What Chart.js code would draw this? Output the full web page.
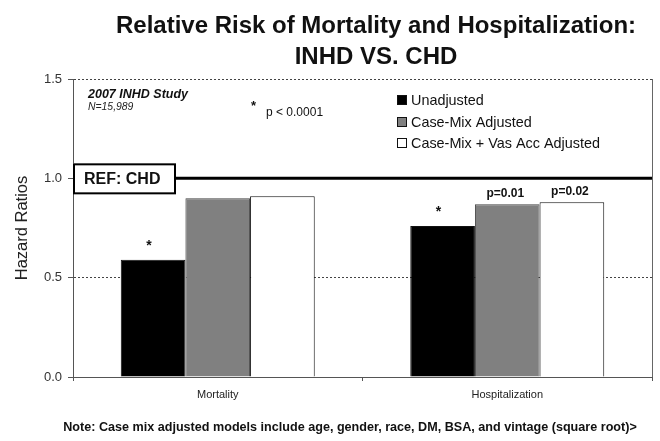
<!DOCTYPE html>
<html>
<head>
<meta charset="utf-8">
<script src="https://cdn.jsdelivr.net/npm/chart.js@4"></script>
<style>
html,body{margin:0;padding:0;background:#fff;}
#wrap{width:660px;height:441px;position:relative;}
</style>
</head>
<body>
<div id="wrap"><canvas id="c" width="660" height="441"></canvas></div>
<script>
const categories = ['Mortality', 'Hospitalization'];
const seriesNames = ['Unadjusted', 'Case-Mix Adjusted', 'Case-Mix + Vas Acc Adjusted'];
const unadjusted = [0.59, 0.76];
const caseMixAdjusted = [0.90, 0.87];
const caseMixVasAcc = [0.91, 0.88];
const barLabels = [['*', '*'], ['', 'p=0.01'], ['', 'p=0.02']];
const yTicks = [0, 0.5, 1.0, 1.5];
const refValue = 1.0;

const FONT = '"Liberation Sans", Arial, sans-serif';

const overlay = {
  id: 'overlay',
  afterDraw(chart) {
    const ctx = chart.ctx;
    const a = chart.chartArea;
    const y = chart.scales.y;
    ctx.save();
    // right border
    ctx.strokeStyle = '#666';
    ctx.lineWidth = 1;
    ctx.beginPath();
    ctx.moveTo(a.right + 0.5, a.top);
    ctx.lineTo(a.right + 0.5, a.bottom);
    ctx.stroke();
    // reference line
    const ry = y.getPixelForValue(refValue);
    ctx.strokeStyle = '#000';
    ctx.lineWidth = 3;
    ctx.beginPath();
    ctx.moveTo(a.left, ry);
    ctx.lineTo(a.right, ry);
    ctx.stroke();
    // REF box
    ctx.fillStyle = '#fff';
    ctx.fillRect(a.left, ry - 15, 102, 30);
    ctx.lineWidth = 2;
    ctx.strokeRect(a.left + 1, ry - 14, 101, 29);
    ctx.fillStyle = '#111';
    ctx.font = 'bold 16px ' + FONT;
    ctx.textAlign = 'left';
    ctx.textBaseline = 'middle';
    ctx.fillText('REF: CHD', a.left + 11, ry + 1);

    // Titles
    ctx.fillStyle = '#111';
    ctx.textAlign = 'center';
    ctx.font = 'bold 24px ' + FONT;
    ctx.fillText('Relative Risk of Mortality and Hospitalization:', 376, 26);
    ctx.fillText('INHD VS. CHD', 376, 57);

    // study notes
    ctx.textAlign = 'left';
    ctx.font = 'italic bold 12.5px ' + FONT;
    ctx.fillText('2007 INHD Study', 88, 95);
    ctx.font = 'italic 10.4px ' + FONT;
    ctx.fillStyle = '#222';
    ctx.fillText('N=15,989', 88, 107);
    ctx.fillStyle = '#111';
    ctx.font = 'bold 13px ' + FONT;
    ctx.fillText('*', 251, 106);
    ctx.font = '12px ' + FONT;
    ctx.fillText('p < 0.0001', 266, 113);

    // legend
    const colors = chart.data.datasets.map(d => d.backgroundColor);
    const legendY = [100, 122, 143];
    ctx.font = '14.4px ' + FONT;
    chart.data.datasets.forEach((d, i) => {
      ctx.fillStyle = colors[i];
      ctx.fillRect(397, legendY[i] - 5, 10, 10);
      ctx.strokeStyle = '#111';
      ctx.lineWidth = 1;
      ctx.strokeRect(397.5, legendY[i] - 4.5, 9, 9);
      ctx.fillStyle = '#111';
      ctx.fillText(d.label, 411, legendY[i] + 1);
    });

    // bar labels
    chart.data.datasets.forEach((d, i) => {
      const meta = chart.getDatasetMeta(i);
      meta.data.forEach((bar, j) => {
        const t = barLabels[i][j];
        if (!t) return;
        ctx.fillStyle = '#111';
        ctx.textAlign = 'center';
        ctx.textBaseline = 'middle';
        if (t === '*') {
          ctx.font = 'bold 14px ' + FONT;
          ctx.fillText(t, bar.x - 4, bar.y - 14);
        } else {
          ctx.font = 'bold 12px ' + FONT;
          ctx.fillText(t, bar.x - 2, bar.y - 10);
        }
      });
    });

    // note
    ctx.textAlign = 'center';
    ctx.textBaseline = 'middle';
    ctx.font = 'bold 12.6px ' + FONT;
    ctx.fillStyle = '#111';
    ctx.fillText('Note: Case mix adjusted models include age, gender, race, DM, BSA, and vintage (square root)>', 350, 428);
    ctx.restore();
  }
};

new Chart(document.getElementById('c'), {
  type: 'bar',
  data: {
    labels: categories,
    datasets: [
      { label: seriesNames[0], data: unadjusted, backgroundColor: '#000000', borderColor: '#111', borderWidth: 1 },
      { label: seriesNames[1], data: caseMixAdjusted, backgroundColor: '#808080', borderColor: '#444', borderWidth: 1 },
      { label: seriesNames[2], data: caseMixVasAcc, backgroundColor: '#ffffff', borderColor: '#111', borderWidth: 1 }
    ]
  },
  options: {
    responsive: false,
    animation: false,
    devicePixelRatio: 1,
    layout: { padding: { left: 0, right: 8, top: 79, bottom: 0 } },
    plugins: { legend: { display: false }, tooltip: { enabled: false }, title: { display: false } },
    datasets: { bar: { categoryPercentage: 0.67, barPercentage: 1.0 } },
    scales: {
      x: {
        grid: { drawOnChartArea: false, tickLength: 4, color: '#555' },
        border: { color: '#555', width: 1 },
        ticks: { font: { family: FONT, size: 11 }, color: '#222', padding: 7 },
        afterFit(s) { s.height = 64; }
      },
      y: {
        min: 0, max: 1.5,
        afterBuildTicks(s) { s.ticks = yTicks.map(v => ({ value: v })); },
        grid: {
          color: c => (c.tick && c.tick.value === 0) ? 'rgba(0,0,0,0)' : '#444',
          tickColor: '#555',
          tickLength: 5,
          tickBorderDash: []
        },
        border: { color: '#555', width: 1, dash: [2, 2] },
        ticks: {
          font: { family: FONT, size: 13 }, color: '#333', padding: 6,
          callback: v => Number(v).toFixed(1)
        },
        title: { display: true, text: 'Hazard Ratios', font: { family: FONT, size: 16.5 }, color: '#222', padding: { top: 13, bottom: 0 } },
        afterFit(s) { s.width = 73; }
      }
    }
  },
  plugins: [overlay]
});
</script>
</body>
</html>
